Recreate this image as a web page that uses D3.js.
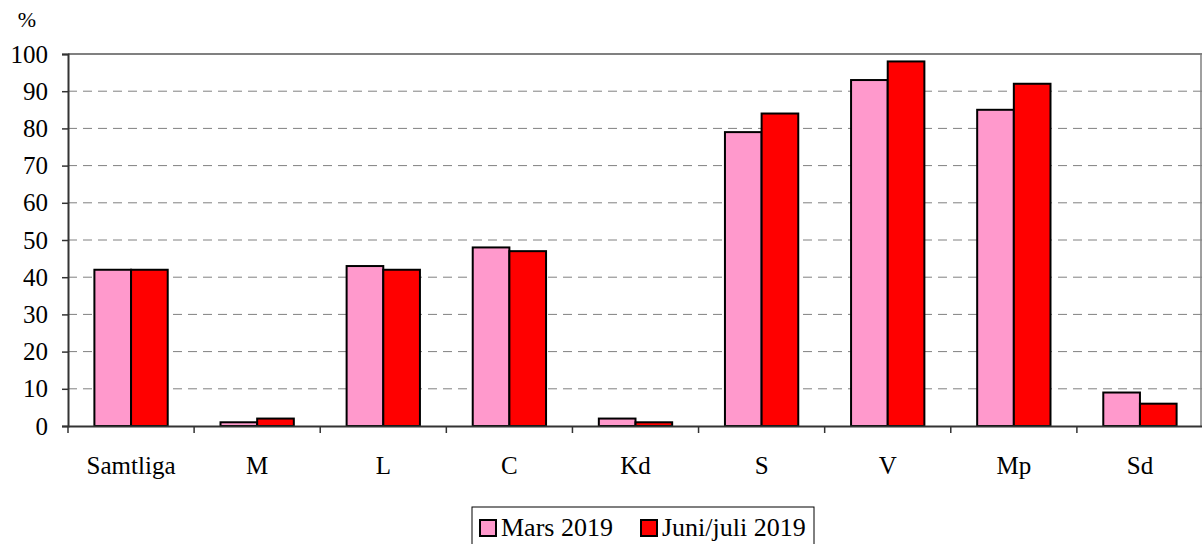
<!DOCTYPE html>
<html>
<head>
<meta charset="utf-8">
<script src="https://cdn.jsdelivr.net/npm/d3@7"></script>
<style>
  body { margin: 0; background: #fff; }
  svg, svg text { font-family: "Liberation Serif", "Times New Roman", serif !important; }
</style>
</head>
<body>
<div id="chart"></div>
<script>
// data
var categories = ["Samtliga", "M", "L", "C", "Kd", "S", "V", "Mp", "Sd"];
var seriesNames = ["Mars 2019", "Juni/juli 2019"];
var mars = [42, 1, 43, 48, 2, 79, 93, 85, 9];
var juni = [42, 2, 42, 47, 1, 84, 98, 92, 6];
var yTicks = [0, 10, 20, 30, 40, 50, 60, 70, 80, 90, 100];
var colors = ["#ff99cc", "#ff0000"];

var width = 1202, height = 544;
var plot = { left: 68, right: 1203, top: 54, bottom: 426 };

var svg = d3.select("#chart").append("svg")
    .attr("width", width)
    .attr("height", height);

var x = d3.scaleBand()
    .domain(categories)
    .range([plot.left, plot.right]);

var xInner = d3.scaleBand()
    .domain(seriesNames)
    .range([0, x.bandwidth()])
    .paddingInner(0)
    .paddingOuter(0.72);

var y = d3.scaleLinear()
    .domain([0, 100])
    .range([plot.bottom, plot.top]);

// gridlines
svg.append("g")
    .selectAll("line")
    .data(yTicks.filter(d => d > 0 && d < 100))
    .enter()
    .append("line")
    .attr("x1", plot.left)
    .attr("x2", width)
    .attr("y1", d => y(d))
    .attr("y2", d => y(d))
    .attr("stroke", "#808080")
    .attr("stroke-width", 1)
    .attr("stroke-dasharray", "9,6");

// top border (100 line) and right border
svg.append("line")
    .attr("x1", plot.left).attr("x2", width)
    .attr("y1", y(100)).attr("y2", y(100))
    .attr("stroke", "#808080").attr("stroke-width", 2);
svg.append("line")
    .attr("x1", width - 1).attr("x2", width - 1)
    .attr("y1", y(100)).attr("y2", plot.bottom)
    .attr("stroke", "#808080").attr("stroke-width", 1.5);

// bars
var rows = categories.map((c, i) => ({ cat: c, values: [mars[i], juni[i]] }));

var groups = svg.append("g")
    .selectAll("g")
    .data(rows)
    .enter()
    .append("g")
    .attr("transform", d => "translate(" + x(d.cat) + ",0)");

groups.selectAll("rect")
    .data(d => d.values.map((v, j) => ({ name: seriesNames[j], v: v, j: j })))
    .enter()
    .append("rect")
    .attr("x", d => xInner(d.name))
    .attr("y", d => y(d.v))
    .attr("width", xInner.bandwidth())
    .attr("height", d => y(0) - y(d.v))
    .attr("fill", d => colors[d.j])
    .attr("stroke", "#000")
    .attr("stroke-width", 2);

// y axis
var yAxis = svg.append("g")
    .attr("transform", "translate(" + plot.left + ",0)")
    .call(d3.axisLeft(y).tickValues(yTicks).tickSize(6).tickPadding(14));
yAxis.attr("font-family", null).attr("font-size", null);
yAxis.select(".domain").attr("stroke", "#333").attr("stroke-width", 2);
yAxis.selectAll(".tick line").attr("stroke", "#333").attr("stroke-width", 1.5);
yAxis.selectAll("text")
    .style("font-size", "25px")
    .attr("fill", "#000");

// x axis
var xAxis = svg.append("g")
    .attr("transform", "translate(0," + plot.bottom + ")")
    .call(d3.axisBottom(x).tickSize(0).tickPadding(30));
xAxis.attr("font-family", null).attr("font-size", null);
xAxis.select(".domain").attr("stroke", "#333").attr("stroke-width", 2);
xAxis.selectAll("text")
    .style("font-size", "25px")
    .attr("fill", "#000");

// tick marks between categories
svg.append("g")
    .selectAll("line")
    .data(categories.concat(["end"]))
    .enter()
    .append("line")
    .attr("x1", (d, i) => plot.left + i * x.step())
    .attr("x2", (d, i) => plot.left + i * x.step())
    .attr("y1", plot.bottom)
    .attr("y2", plot.bottom + 7)
    .attr("stroke", "#333")
    .attr("stroke-width", 1.5);

// unit label
svg.append("text")
    .attr("x", 27)
    .attr("y", 27)
    .attr("text-anchor", "middle")
    .style("font-size", "22px")
    .text("%");

// legend
var legend = svg.append("g").attr("transform", "translate(472,507)");
legend.append("rect")
    .attr("width", 342)
    .attr("height", 60)
    .attr("fill", "#fff")
    .attr("stroke", "#000")
    .attr("stroke-width", 1);

var legendX = [8, 169];
seriesNames.forEach(function(name, i) {
    legend.append("rect")
        .attr("x", legendX[i])
        .attr("y", 13)
        .attr("width", 16)
        .attr("height", 16)
        .attr("fill", colors[i])
        .attr("stroke", "#000")
        .attr("stroke-width", 2);
    legend.append("text")
        .attr("x", legendX[i] + 21)
        .attr("y", 29)
        .style("font-size", "26px")
        .text(name);
});
</script>
</body>
</html>
